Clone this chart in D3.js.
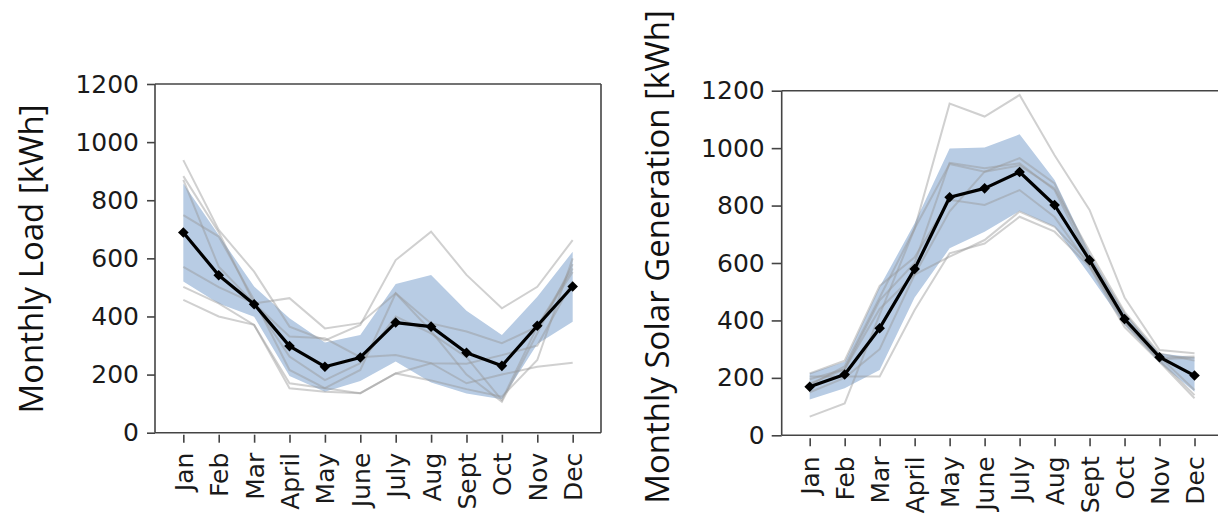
<!DOCTYPE html>
<html><head><meta charset="utf-8">
<script src="https://cdn.jsdelivr.net/npm/d3@7/dist/d3.min.js"></script>
<style>
body{margin:0;background:#fff;}
svg{display:block;}
</style></head>
<body><svg id="chart" width="1218" height="517"></svg>
<script>
const months = ["Jan","Feb","Mar","April","May","June","July","Aug","Sept","Oct","Nov","Dec"];
const yTicks = [0,200,400,600,800,1000,1200];

// Monthly load
const loadMean  = [689, 542, 442, 298, 227, 259, 379, 365, 275, 230, 368, 503];
const loadUpper = [858, 680, 503, 394, 310, 336, 512, 543, 420, 336, 468, 623];
const loadLower = [520, 445, 399, 195, 141, 178, 245, 173, 135, 115, 305, 382];
const loadL1 = [938, 698, 554, 365, 318, 371, 594, 692, 543, 428, 502, 663];
const loadL2 = [883, 690, 445, 463, 359, 377, 480, 376, 348, 308, 365, 565];
const loadL3 = [870, 571, 445, 262, 181, 239, 400, 342, 260, 112, 365, 553];
const loadL4 = [749, 675, 457, 216, 153, 216, 480, 350, 200, 107, 342, 580];
const loadL5 = [571, 501, 445, 331, 325, 260, 267, 239, 237, 267, 300, 520];
const loadL6 = [502, 445, 371, 170, 153, 136, 204, 239, 170, 200, 227, 241];
const loadL7 = [457, 400, 371, 153, 141, 136, 204, 180, 150, 124, 250, 600];

// Monthly solar generation
const solarMean  = [169, 212, 373, 579, 829, 860, 917, 802, 610, 405, 272, 208];
const solarUpper = [216, 256, 517, 738, 999, 1002, 1048, 889, 634, 425, 285, 272];
const solarLower = [125, 164, 227, 480, 651, 709, 781, 726, 558, 384, 253, 152];
const solarL1 = [175, 240, 480, 720, 1155, 1110, 1185, 975, 785, 480, 297, 286];
const solarL2 = [65, 111, 420, 720, 945, 918, 965, 877, 622, 425, 274, 158];
const solarL3 = [205, 205, 205, 436, 634, 668, 761, 709, 587, 377, 256, 129];
const solarL4 = [195, 230, 440, 560, 622, 680, 779, 726, 600, 390, 262, 140];
const solarL5 = [180, 230, 470, 600, 949, 930, 947, 854, 610, 410, 270, 274];
const solarL6 = [215, 260, 520, 620, 820, 802, 854, 760, 590, 395, 265, 270];
const solarL7 = [150, 200, 300, 560, 780, 918, 940, 860, 640, 430, 285, 260];

const svg = d3.select("#chart");
const tickFont = "'DejaVu Sans', Verdana, sans-serif";
const labelFont = "'Open Sans', 'Noto Sans', sans-serif";

function panel(opts) {
  const {left, right, top, bottom, label, labelX, labelY, mean, upper, lower, lines, xGap, tickLen, tickPad, closeRight} = opts;
  const x = d3.scalePoint().domain(months).range([left, right]).padding(0.8);
  const y = d3.scaleLinear().domain([0, 1200]).range([bottom, top]);
  const g = svg.append("g");

  // band
  const area = d3.area().x((d,i)=>x(months[i])).y0((d,i)=>y(lower[i])).y1(d=>y(d));
  g.append("path").datum(upper).attr("d", area).attr("fill", "#b8cce4");

  // individual lines
  const line = d3.line().x((d,i)=>x(months[i])).y(d=>y(d));
  lines.forEach(arr => {
    g.append("path").datum(arr).attr("d", line)
      .attr("fill","none").attr("stroke","rgb(150,150,150)").attr("stroke-opacity",0.45)
      .attr("stroke-width",2);
  });

  // mean line
  g.append("path").datum(mean).attr("d", line)
    .attr("fill","none").attr("stroke","#000").attr("stroke-width",3.2).attr("stroke-linejoin","round");
  g.selectAll("path.mk").data(mean).enter().append("path").attr("class","mk")
    .attr("d", d3.symbol().type(d3.symbolSquare).size(56))
    .attr("transform",(d,i)=>`translate(${x(months[i])},${y(d)}) rotate(45)`)
    .attr("fill","#000");

  // frame
  const fr = g.append("g").attr("stroke","#444").attr("stroke-width",1.6).attr("fill","none");
  fr.append("line").attr("x1",left).attr("x2",left).attr("y1",top).attr("y2",bottom);
  fr.append("line").attr("x1",left).attr("x2",right).attr("y1",top).attr("y2",top);
  fr.append("line").attr("x1",left).attr("x2",right).attr("y1",bottom).attr("y2",bottom);
  if (closeRight) fr.append("line").attr("x1",right).attr("x2",right).attr("y1",top).attr("y2",bottom);

  // y axis
  const ya = g.append("g").attr("transform",`translate(${left},0)`)
    .call(d3.axisLeft(y).tickValues(yTicks).tickSize(tickLen).tickPadding(tickPad).tickFormat(d3.format("d")));
  ya.select(".domain").remove();
  ya.selectAll("line").attr("stroke","#444").attr("stroke-width",1.6);
  ya.selectAll("text").attr("font-family",tickFont).attr("font-size",25).attr("fill","#1a1a1a");

  // x axis
  const xa = g.append("g").attr("transform",`translate(0,${bottom + xGap})`)
    .call(d3.axisBottom(x).tickSize(8));
  xa.select(".domain").remove();
  xa.selectAll("line").attr("stroke","#444").attr("stroke-width",1.6);
  xa.selectAll("text").attr("font-family",tickFont).attr("font-size",25).attr("fill","#1a1a1a")
    .attr("transform","rotate(-90)").attr("text-anchor","end")
    .attr("x",-18).attr("y",0).attr("dy","0.36em");

  // y label
  svg.append("text").attr("transform",`translate(${labelX},${labelY}) rotate(-90)`)
    .attr("text-anchor","middle").attr("dominant-baseline","central")
    .attr("font-family",labelFont).attr("font-size",33).attr("fill","#111").text(label);
}

panel({left:155, right:601, top:84, bottom:432.7, label:"Monthly Load [kWh]", labelX:30, labelY:259,
  mean:loadMean, upper:loadUpper, lower:loadLower,
  lines:[loadL1,loadL2,loadL3,loadL4,loadL5,loadL6,loadL7], xGap:2, tickLen:8, tickPad:8, closeRight:true});

panel({left:781.7, right:1222.5, top:90.7, bottom:435.3, label:"Monthly Solar Generation [kWh]", labelX:656, labelY:257,
  mean:solarMean, upper:solarUpper, lower:solarLower,
  lines:[solarL1,solarL2,solarL3,solarL4,solarL5,solarL6,solarL7], xGap:3, tickLen:10, tickPad:7, closeRight:false});
</script>
</body></html>
